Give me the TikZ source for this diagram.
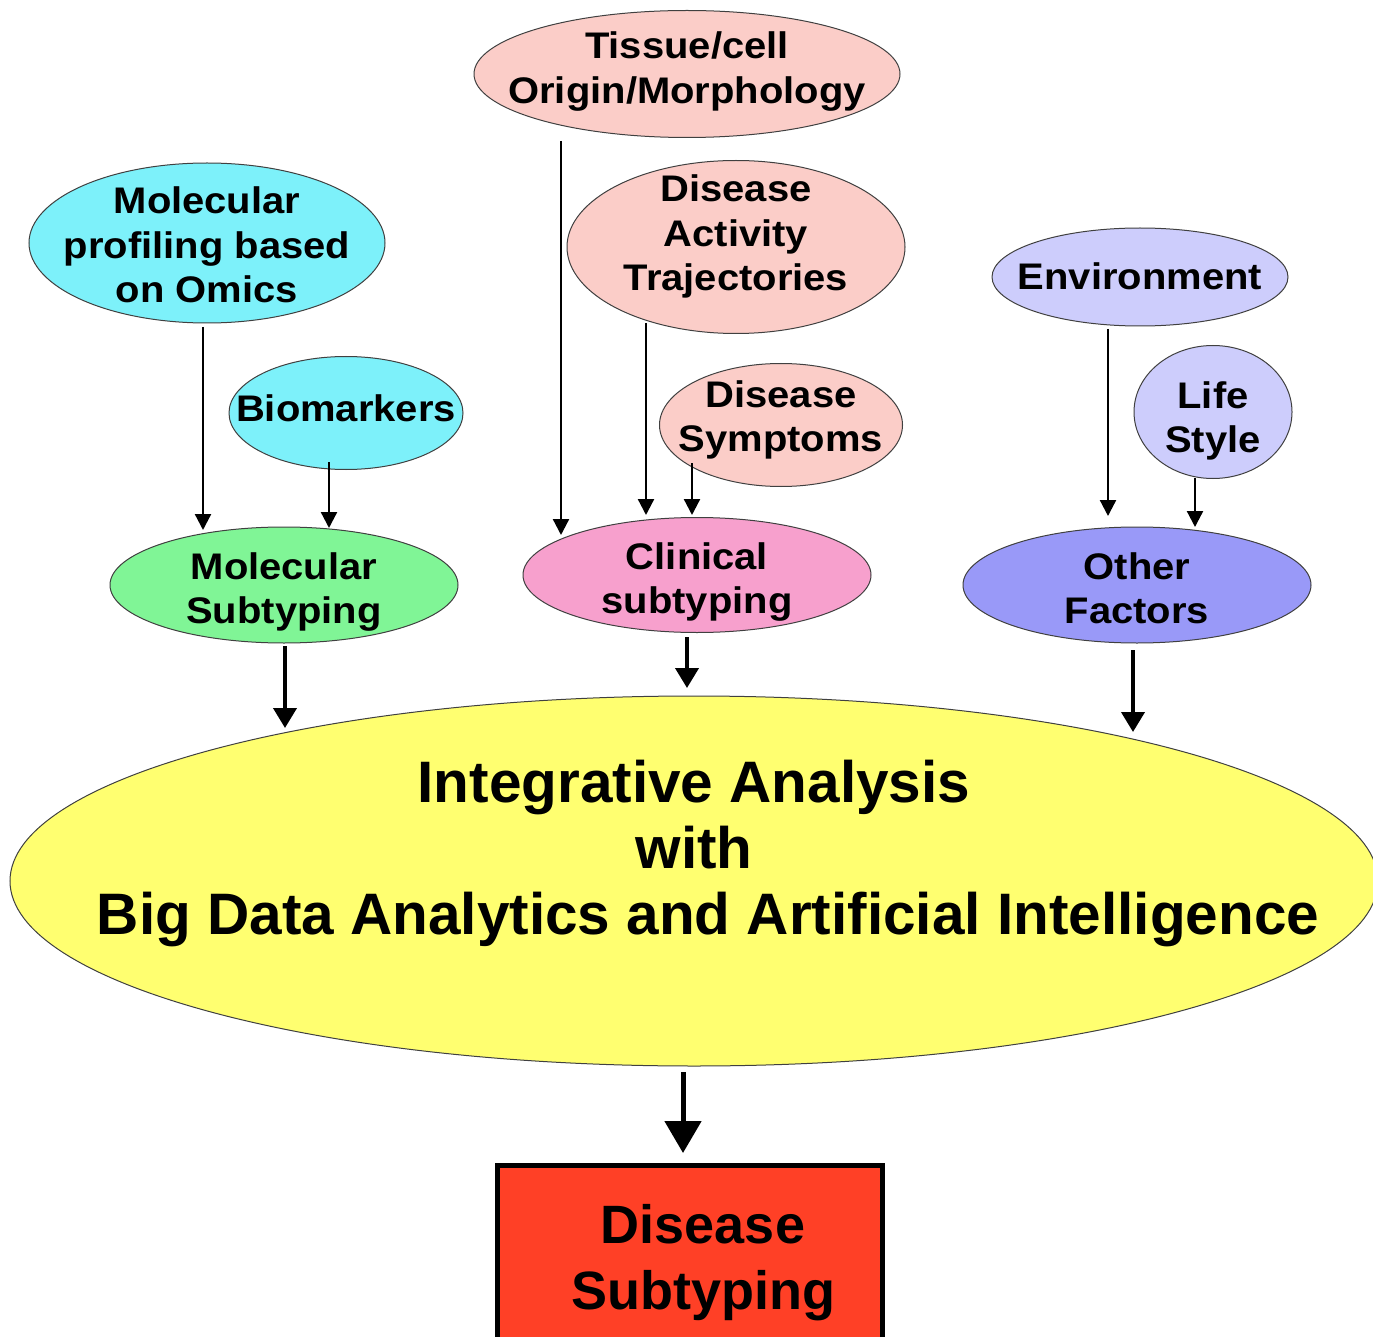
\documentclass[tikz,border=0pt]{standalone}
\usepackage{fontspec}
\setmainfont{Liberation Sans}
\newfontfamily\nodefont{Liberation Sans}[FakeStretch=1.08]
\newfontfamily\bigfont{Liberation Sans}
\usetikzlibrary{arrows.meta,calc,shapes.geometric}
\definecolor{cyanf}{RGB}{125,241,250}
\definecolor{greenf}{RGB}{128,245,150}
\definecolor{pinkf}{RGB}{251,205,200}
\definecolor{clinf}{RGB}{247,160,205}
\definecolor{lavf}{RGB}{205,205,252}
\definecolor{othf}{RGB}{153,153,248}
\definecolor{yelf}{RGB}{255,255,112}
\definecolor{redf}{RGB}{255,64,38}
% text block: first baseline raised by #1 above the node centre
\newcommand\tblock[2]{\raisebox{#1}[0pt][0pt]{\begin{tabular}[t]{@{}c@{}}#2\end{tabular}}}
\tikzset{
  oval/.style={ellipse, draw=black!75, line width=1pt, inner xsep=-400pt, inner ysep=-400pt,
    font=\nodefont\bfseries\fontsize{37}{44.5}\selectfont},
  thinarr/.style={line width=2.3pt, -{Triangle[width=16pt,length=16pt]}},
  thickarr/.style={line width=4pt, -{Triangle[width=23pt,length=20pt]}},
  hugearr/.style={line width=5pt, -{Triangle[width=36pt,length=32pt]}},
}
\begin{document}
\begin{tikzpicture}[x=1pt,y=-1pt]
\useasboundingbox (0,0) rectangle (1373,1337);
\clip (0,0) rectangle (1373,1337);
\fill[white] (0,0) rectangle (1373,1337);

% nodes
\node[oval, fill=cyanf, minimum width=356pt, minimum height=160pt] (mop) at (207,243) {\tblock{29pt}{Molecular\\profiling based\\on Omics}};
\node[oval, fill=cyanf, minimum width=234pt, minimum height=113pt] (bio) at (346,413) {\tblock{-8pt}{Biomarkers}};
\node[oval, fill=greenf, minimum width=348pt, minimum height=116pt] (mols) at (284,585) {\tblock{6pt}{Molecular\\Subtyping}};

\node[oval, fill=pinkf, minimum width=426pt, minimum height=127pt] (tis) at (687,74) {\tblock{15pt}{Tissue/cell\\Origin/Morphology}};
\node[oval, fill=pinkf, minimum width=338pt, minimum height=173pt] (dat) at (736,247) {\tblock{45pt}{Disease\\Activity\\Trajectories}};
\node[oval, fill=pinkf, minimum width=243pt, minimum height=123pt] (sym) at (781,425) {\tblock{18pt}{Disease\\Symptoms}};
\node[oval, fill=clinf, minimum width=348pt, minimum height=115pt] (clin) at (697,575) {\tblock{6pt}{Clinical\\subtyping}};

\node[oval, fill=lavf, minimum width=296pt, minimum height=98pt] (env) at (1140,277) {\tblock{-13pt}{Environment}};
\node[oval, fill=lavf, minimum width=158pt, minimum height=133pt] (life) at (1213,412) {\tblock{4pt}{Life\\Style}};
\node[oval, fill=othf, minimum width=348pt, minimum height=116pt] (oth) at (1137,585) {\tblock{6pt}{Other\\Factors}};

\node[oval, fill=yelf, minimum width=1368pt, minimum height=370pt,
      font=\bigfont\bfseries\fontsize{58.5}{66}\selectfont] (big) at (694,881)
  {\tblock{79pt}{Integrative Analysis\\with\\\hspace*{28pt}Big Data Analytics and Artificial Intelligence}};

\node[rectangle, draw=black, line width=5pt, fill=redf, minimum width=385pt, minimum height=180pt,
      inner sep=0pt, font=\bigfont\bfseries\fontsize{54}{66}\selectfont] (ds) at (690,1255)
  {\tblock{12pt}{\hspace*{26pt}Disease\\\hspace*{26pt}Subtyping}};

% connectors
\draw[thinarr] ($(mop.center)+(-4,84)$) -- ($(mols.center)+(-81,-55)$);
\draw[thinarr] ($(bio.center)+(-17,49)$) -- ($(mols.center)+(45,-57)$);
\draw[thinarr] ($(tis.center)+(-126,67)$) -- ($(clin.center)+(-136,-40)$);
\draw[thinarr] ($(dat.center)+(-90,76)$) -- ($(clin.center)+(-51,-60)$);
\draw[thinarr] ($(sym.center)+(-89,38)$) -- ($(clin.center)+(-5,-60)$);
\draw[thinarr] ($(env.center)+(-32,52)$) -- ($(oth.center)+(-29,-69)$);
\draw[thinarr] ($(life.center)+(-18,66)$) -- ($(oth.center)+(58,-58)$);

\draw[thickarr] ($(mols.center)+(1,61)$) -- ($(big.center)+(-409,-153)$);
\draw[thickarr] ($(clin.center)+(-10,62)$) -- ($(big.center)+(-7,-193)$);
\draw[thickarr] ($(oth.center)+(-4,65)$) -- ($(big.center)+(439,-149)$);
\draw[hugearr] ($(big.center)+(-11,191)$) -- ($(ds.center)+(-7,-102)$);
\end{tikzpicture}
\end{document}
